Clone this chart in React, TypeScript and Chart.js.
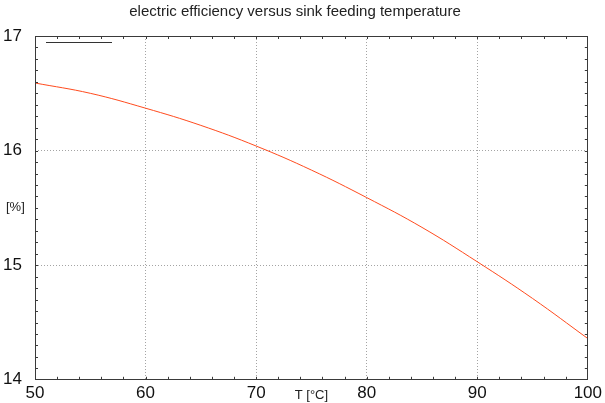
import React, { useEffect, useRef } from "react";
import { Chart, registerables } from "chart.js";

Chart.register(...registerables);

// Electric efficiency [%] against sink feeding temperature [°C]
const temperatures = [50, 55, 60, 65, 70, 75, 80, 85, 90, 95, 100];
const efficiency = [16.59, 16.5, 16.37, 16.22, 16.04, 15.83, 15.59, 15.33, 15.03, 14.71, 14.36];

const xRange = [50, 100];
const yRange = [14, 17];
const xMajorStep = 10;
const xMinorStep = 2;
const yMajorStep = 1;
const yMinorStep = 0.1;

const titleText = "electric efficiency versus sink feeding temperature";
const xAxisLabel = "T [°C]";
const yAxisLabel = "[%]";

const FONT = "'Liberation Sans', Arial, sans-serif";
const FRAME = "#3a3a3a";

const framePlugin = {
  id: "frameAndTicks",
  afterDatasetsDraw(chart: any) {
    const { ctx, chartArea } = chart;
    const xs = chart.scales.x;
    const ys = chart.scales.y;
    const { left, right, top, bottom } = chartArea;
    ctx.save();
    ctx.strokeStyle = FRAME;
    ctx.lineWidth = 1;
    ctx.setLineDash([]);

    // inward tick marks on all four sides
    ctx.beginPath();
    const nx = Math.round((xRange[1] - xRange[0]) / xMinorStep);
    for (let i = 1; i < nx; i++) {
      const v = xRange[0] + i * xMinorStep;
      const px = Math.round(xs.getPixelForValue(v)) + 0.5;
      const len = 3;
      ctx.moveTo(px, bottom);
      ctx.lineTo(px, bottom - len);
      ctx.moveTo(px, top);
      ctx.lineTo(px, top + len);
    }
    const ny = Math.round((yRange[1] - yRange[0]) / yMinorStep);
    for (let i = 1; i < ny; i++) {
      const v = yRange[0] + i * yMinorStep;
      const py = Math.round(ys.getPixelForValue(v)) + 0.5;
      const len = 3;
      ctx.moveTo(left, py);
      ctx.lineTo(left + len, py);
      ctx.moveTo(right, py);
      ctx.lineTo(right - len, py);
    }
    ctx.stroke();

    // plot frame
    ctx.strokeRect(Math.round(left) + 0.5, Math.round(top) + 0.5, Math.round(right - left) - 1, Math.round(bottom - top) - 1);

    // legend sample line
    ctx.beginPath();
    ctx.strokeStyle = "#333";
    ctx.moveTo(left + 11, Math.round(top) + 6.5);
    ctx.lineTo(left + 77, Math.round(top) + 6.5);
    ctx.stroke();

    // axis titles
    ctx.fillStyle = "#222";
    ctx.font = `13px ${FONT}`;
    ctx.textAlign = "center";
    ctx.textBaseline = "middle";
    ctx.fillText(xAxisLabel, (left + right) / 2, bottom + 15.5);
    ctx.textAlign = "left";
    ctx.fillText(yAxisLabel, 6, (top + bottom) / 2);
    ctx.restore();
  },
};

export default function App() {
  const canvasRef = useRef<HTMLCanvasElement | null>(null);

  useEffect(() => {
    const canvas = canvasRef.current;
    if (!canvas) return;
    const gridColor = (ctx: any, lo: number, hi: number) => {
      const v = ctx.tick ? ctx.tick.value : null;
      if (v === null || v === lo || v === hi) return "rgba(0,0,0,0)";
      return "#a4a4a4";
    };
    const chart = new Chart(canvas, {
      type: "line",
      data: {
        datasets: [
          {
            data: temperatures.map((t, i) => ({ x: t, y: efficiency[i] })),
            borderColor: "#ff4b1e",
            borderWidth: 1,
            pointRadius: 0,
            fill: false,
            tension: 0.4,
          },
        ],
      },
      plugins: [framePlugin],
      options: {
        animation: false,
        responsive: false,
        devicePixelRatio: 1,
        layout: { padding: { left: 0, right: 15, top: 0, bottom: 0 } },
        plugins: {
          legend: { display: false },
          tooltip: { enabled: false },
          title: {
            display: true,
            text: titleText,
            color: "#222",
            font: { family: FONT, size: 15, weight: "normal", lineHeight: 1.2 },
            padding: { top: 3, bottom: 15 },
          },
        },
        scales: {
          x: {
            type: "linear",
            min: xRange[0],
            max: xRange[1],
            afterFit(scale: any) {
              scale.height = 22;
            },
            ticks: {
              stepSize: xMajorStep,
              color: "#111",
              font: { family: FONT, size: 17 },
              padding: 3,
              maxRotation: 0,
            },
            grid: {
              drawTicks: false,
              color: (c: any) => gridColor(c, xRange[0], xRange[1]),
              lineWidth: 1,
            },
            border: { display: false, dash: [1, 2] },
          },
          y: {
            type: "linear",
            min: yRange[0],
            max: yRange[1],
            afterFit(scale: any) {
              scale.width = 35;
            },
            ticks: {
              stepSize: yMajorStep,
              color: "#111",
              font: { family: FONT, size: 17 },
              padding: 13,
            },
            grid: {
              drawTicks: false,
              color: (c: any) => gridColor(c, yRange[0], yRange[1]),
              lineWidth: 1,
            },
            border: { display: false, dash: [1, 2] },
          },
        },
      },
    } as any);
    return () => chart.destroy();
  }, []);

  return (
    <div style={{ position: "fixed", left: 0, top: 0, width: 605, height: 403, background: "#fff" }}>
      <canvas ref={canvasRef} width={605} height={403} style={{ display: "block" }} />
    </div>
  );
}
